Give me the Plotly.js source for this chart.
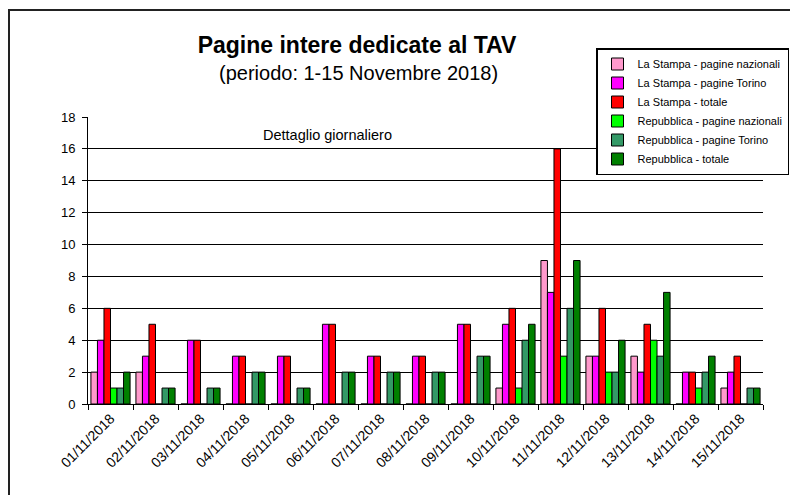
<!DOCTYPE html>
<html>
<head>
<meta charset="utf-8">
<script src="https://cdn.plot.ly/plotly-3.0.1.min.js"></script>
<style>html,body{margin:0;padding:0;background:#fff;}#chart{width:790px;height:495px;}</style>
</head>
<body>
<div id="chart"></div>
<script>
var dates = ['01/11/2018','02/11/2018','03/11/2018','04/11/2018','05/11/2018','06/11/2018','07/11/2018','08/11/2018','09/11/2018','10/11/2018','11/11/2018','12/11/2018','13/11/2018','14/11/2018','15/11/2018'];
var seriesNames = ['La Stampa - pagine nazionali','La Stampa - pagine Torino','La Stampa - totale','Repubblica - pagine nazionali','Repubblica - pagine Torino','Repubblica - totale'];
var lsNaz  = [2,2,0,0,0,0,0,0,0,1,9,3,3,0,1];
var lsTor  = [4,3,4,3,3,5,3,3,5,5,7,3,2,2,2];
var lsTot  = [6,5,4,3,3,5,3,3,5,6,16,6,5,2,3];
var repNaz = [1,0,0,0,0,0,0,0,0,1,3,2,4,1,0];
var repTor = [1,1,1,2,1,2,2,2,3,4,6,2,3,2,1];
var repTot = [2,1,1,2,1,2,2,2,3,5,9,4,7,3,1];
var yTicks = [0,2,4,6,8,10,12,14,16,18];

var seriesValues = [lsNaz, lsTor, lsTot, repNaz, repTor, repTot];
var colors = ['#FF99CC','#FF00FF','#FF0000','#00FF00','#339966','#008000'];

var FONT = 'Liberation Sans, Arial, sans-serif';
var traces = seriesValues.map(function(v, i){
  return {
    type: 'bar', x: dates, y: v, name: seriesNames[i],
    marker: {color: colors[i], line: {color: '#000', width: 1}}
  };
});

// plot area pixel geometry: x 88..763, y 117..404
var L = 88, R = 763, T = 117, B = 404;
function px(x){ return (x - L) / (R - L); }
function py(y){ return (B - y) / (B - T); }

var layout = {
  width: 790, height: 495,
  margin: {l: L, r: 790 - R, t: T, b: 495 - B, autoexpand: false},
  paper_bgcolor: '#fff', plot_bgcolor: '#fff',
  font: {family: FONT, color: '#000'},
  barmode: 'group', bargap: 0.13, bargroupgap: 0,
  title: {
    text: '<b>Pagine intere dedicate al TAV</b>',
    font: {family: FONT, size: 23, color: '#000'},
    x: 357 / 790, xanchor: 'center', xref: 'container',
    y: 1 - 45 / 495, yanchor: 'middle', yref: 'container'
  },
  xaxis: {
    type: 'category', tickangle: -45, tickson: 'boundaries',
    ticks: 'outside', ticklen: 5, tickcolor: '#000', tickwidth: 1,
    showline: true, linecolor: '#000', linewidth: 1,
    showgrid: false, automargin: false,
    tickfont: {family: FONT, size: 14, color: '#000'}
  },
  yaxis: {
    range: [0, 18], tickvals: yTicks, ticktext: yTicks.map(String),
    ticks: 'outside', ticklen: 5, tickcolor: '#000', tickwidth: 1,
    showline: true, linecolor: '#000', linewidth: 1, automargin: false,
    showgrid: true, gridcolor: '#000', gridwidth: 1, zeroline: false,
    ticklabelstandoff: 4,
    tickfont: {family: FONT, size: 13, color: '#000'}
  },
  legend: {
    x: px(596), y: py(48), xanchor: 'left', yanchor: 'top',
    bgcolor: '#fff', bordercolor: '#000', borderwidth: 1.5,
    font: {family: FONT, size: 11, color: '#000'},
    tracegroupgap: 0, traceorder: 'normal'
  },
  showlegend: true,
  annotations: [
    {text: '(periodo: 1-15 Novembre 2018)', xref: 'paper', yref: 'paper',
     x: px(358), y: py(73), xanchor: 'center', yanchor: 'middle', showarrow: false,
     font: {family: FONT, size: 20, color: '#000'}},
    {text: 'Dettaglio giornaliero', xref: 'paper', yref: 'paper',
     x: px(327), y: py(135), xanchor: 'center', yanchor: 'middle', showarrow: false,
     font: {family: FONT, size: 14.5, color: '#000'}}
  ],
  shapes: [
    {type: 'rect', xref: 'paper', yref: 'paper', x0: px(9), x1: 1.2, y0: -0.6, y1: py(10),
     line: {color: '#222', width: 2}, fillcolor: 'rgba(0,0,0,0)', layer: 'below'}
  ]
};

Plotly.newPlot('chart', traces, layout, {displayModeBar: false, staticPlot: true});
</script>
</body>
</html>
